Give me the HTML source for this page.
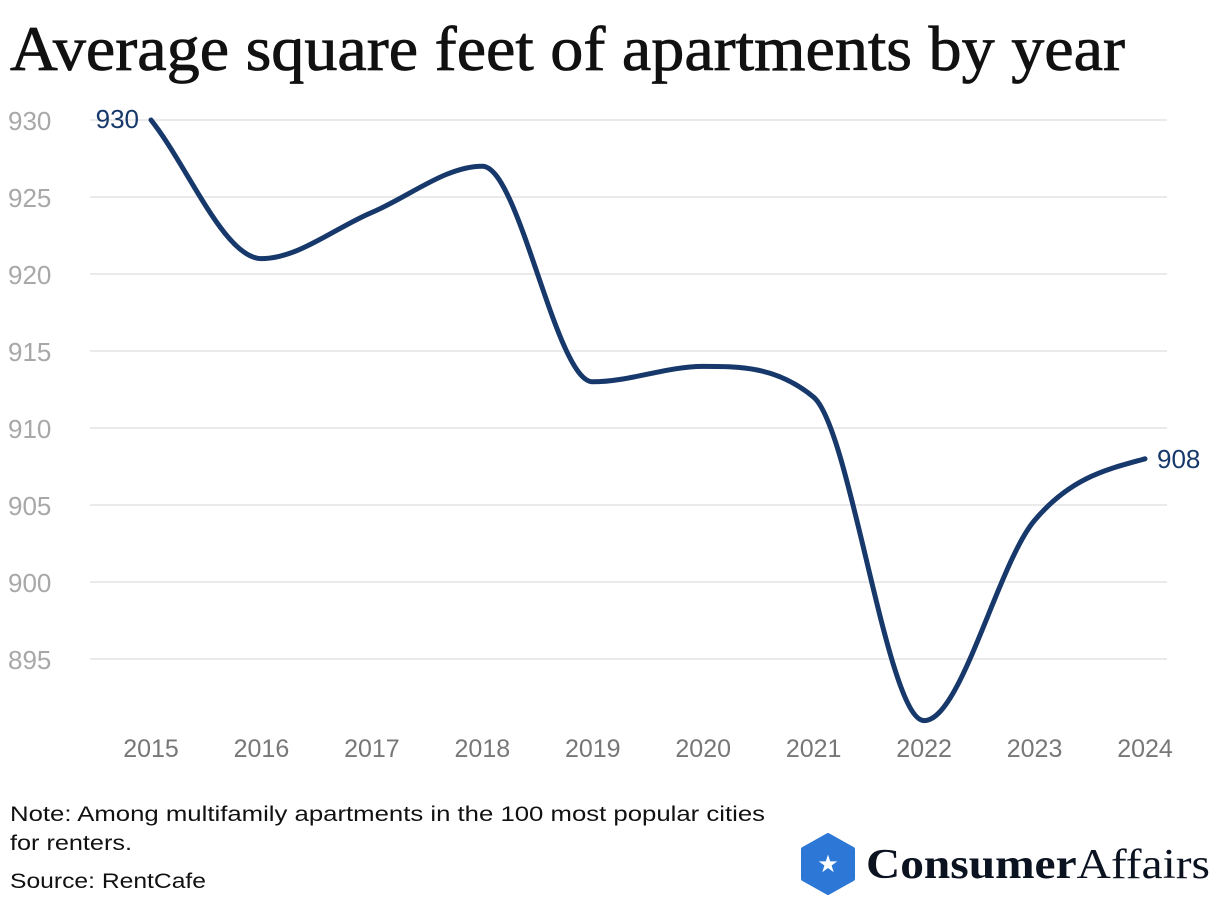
<!DOCTYPE html>
<html><head><meta charset="utf-8"><style>
body{margin:0;background:#fff;width:1220px;height:904px;overflow:hidden}
svg{display:block}
</style></head><body>
<svg width="1220" height="904" id="chart" font-family="Liberation Sans, sans-serif">
<text x="10" y="70" font-family="Liberation Serif, serif" font-size="64" fill="#111" stroke="#111" stroke-width="0.8" textLength="1115" lengthAdjust="spacingAndGlyphs">Average square feet of apartments by year</text>
<g id="grid"></g><g id="yt"></g><g id="xt"></g><g id="line"></g>
<text x="10" y="821" font-size="21" fill="#111" textLength="755" lengthAdjust="spacingAndGlyphs">Note: Among multifamily apartments in the 100 most popular cities</text>
<text x="10" y="850" font-size="21" fill="#111" textLength="122" lengthAdjust="spacingAndGlyphs">for renters.</text>
<text x="10" y="888" font-size="21" fill="#111" textLength="196" lengthAdjust="spacingAndGlyphs">Source: RentCafe</text>
<g>
<polygon points="828,835 853,849 853,879 828,893 803,879 803,849" fill="#2d78d6" stroke="#2d78d6" stroke-width="4" stroke-linejoin="round"/>
<text x="828" y="872" font-size="24" fill="#fff" text-anchor="middle">★</text>
<text x="866" y="878" font-family="Liberation Serif, serif" font-size="42" fill="#0b1220" textLength="344" lengthAdjust="spacingAndGlyphs"><tspan font-weight="bold">Consumer</tspan>Affairs</text>
</g>
</svg>
<script>
const years=[2015,2016,2017,2018,2019,2020,2021,2022,2023,2024];
const values=[930,921,924,927,913,914,912,891,904,908];
const yTicks=[930,925,920,915,910,905,900,895];
const NS="http://www.w3.org/2000/svg";
const x=i=>151+i*(1145-151)/(years.length-1);
const y=v=>120+(930-v)*15.4;
function mk(t,a,p){const e=document.createElementNS(NS,t);for(const k in a)e.setAttribute(k,a[k]);document.getElementById(p).appendChild(e);return e;}
yTicks.forEach(v=>{
 const l=mk('line',{x1:90,x2:1167,y1:y(v),y2:y(v),stroke:'#e3e3e3','stroke-width':1.5},'grid');
 
 
 const t=mk('text',{x:8,y:y(v)+10,'font-size':26,fill:'#a8a8a8'},'yt');t.textContent=v;
 
 
});
years.forEach((yr,i)=>{
 const t=mk('text',{x:x(i),y:757,'font-size':25,fill:'#777','text-anchor':'middle'},'xt');t.textContent=yr;
 
 
});
const P=values.map((v,i)=>[x(i),y(v)]);const n=P.length;
const s=[],m=[];for(let i=0;i<n-1;i++)s.push((P[i+1][1]-P[i][1])/(P[i+1][0]-P[i][0]));
for(let i=0;i<n;i++){
 if(i==0)m.push(s[0]);else if(i==n-1)m.push(s[n-2]*0.5);
 else{const a=s[i-1],b=s[i];m.push(a*b<=0?0:Math.sign(a)*Math.min((Math.abs(a)+Math.abs(b))/2,3*Math.min(Math.abs(a),Math.abs(b))));}
}
let d=`M${P[0][0]},${P[0][1]}`;
for(let i=0;i<n-1;i++){const h=(P[i+1][0]-P[i][0])/3;d+=`C${P[i][0]+h},${P[i][1]+m[i]*h} ${P[i+1][0]-h},${P[i+1][1]-m[i+1]*h} ${P[i+1][0]},${P[i+1][1]}`;}
const path=mk('path',{d:d,fill:'none',stroke:'#17386a','stroke-width':5,'stroke-linecap':'round'},'line');


const a=mk('text',{x:x(0)-12,y:y(values[0])+8,'font-size':26,fill:'#17386a','text-anchor':'end'},'line');a.textContent=values[0];


const b=mk('text',{x:x(n-1)+12,y:y(values[n-1])+9,'font-size':26,fill:'#17386a'},'line');b.textContent=values[n-1];


</script>
</body></html>
